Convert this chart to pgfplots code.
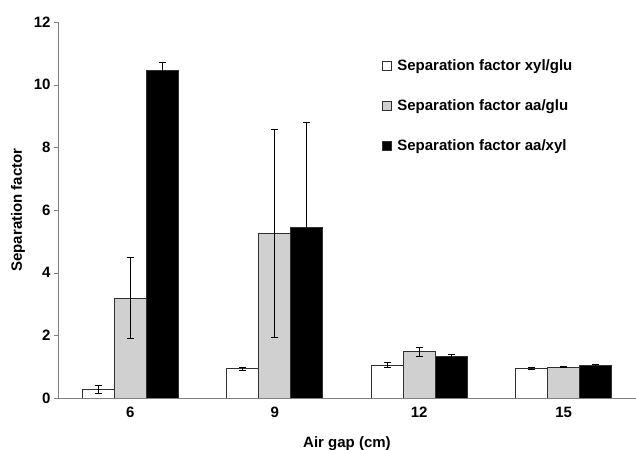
\documentclass[border=0pt]{standalone}
\usepackage{fontspec}
\setmainfont{Liberation Sans}
\usepackage{pgfplots}
\pgfplotsset{compat=1.18}
\definecolor{BarGray}{HTML}{D0D0D0}
\definecolor{EdgeGray}{HTML}{303030}
\definecolor{AxisGray}{HTML}{808080}
\newcommand{\chartfont}{\bfseries\fontsize{15bp}{17bp}\selectfont}

\begin{document}
\begin{tikzpicture}
\begin{axis}[
  name=ax,
  scale only axis,
  width=578bp, height=376bp,
  ybar=0pt,
  bar width=0.222,
  xmin=-0.5, xmax=3.5,
  ymin=0, ymax=12,
  xtick={0,1,2,3},
  xticklabels={6,9,12,15},
  major x tick style={draw=none},
  extra x ticks={0.5,1.5,2.5},
  extra x tick labels={},
  extra x tick style={major tick length=4bp, tick style={draw=AxisGray}},
  ytick={0,2,...,12},
  tick align=outside,
  major tick length=4bp,
  y tick style={draw=AxisGray},
  axis x line*=bottom,
  axis y line*=left,
  axis line style={draw=AxisGray, line width=0.8pt},
  tick label style={font=\chartfont},
  xticklabel style={yshift=-2bp},
  /pgf/number format/assume math mode=true,
  xlabel={Air gap (cm)},
  ylabel={Separation factor},
  every axis x label/.style={at={(rel axis cs:0.5,0)}, yshift=-46bp, anchor=center, font=\chartfont},
  every axis y label/.style={at={(rel axis cs:0,0.5)}, xshift=-40bp, rotate=90, anchor=center, font=\chartfont},
  legend style={draw=none, fill=none, at={(0.555,0.912)}, anchor=north west,
    font=\chartfont, row sep=24bp,
    legend cell align=left},
  legend image code/.code={\draw[#1, line width=0.8pt] (0bp,-4.5bp) rectangle (9bp,4.5bp);
    \path[draw=none, fill=none] (9bp,0bp) -- (13bp,0bp);},
  error bars/y dir=both,
  error bars/y explicit,
  error bars/error bar style={line width=1pt, black},
  error bars/error mark options={rotate=90, mark size=3.5bp, line width=1pt, black},
]
\addplot[fill=white, draw=EdgeGray, line width=1pt] coordinates {
  (0,0.28) +- (0,0.13)
  (1,0.93) +- (0,0.04)
  (2,1.05) +- (0,0.09)
  (3,0.93) +- (0,0.03)
};
\addplot[fill=BarGray, draw=EdgeGray, line width=1pt] coordinates {
  (0,3.19) +- (0,1.29)
  (1,5.24) +- (0,3.32)
  (2,1.47) +- (0,0.15)
  (3,0.98) +- (0,0.02)
};
\addplot[fill=black, draw=EdgeGray, line width=1pt] coordinates {
  (0,10.44) +- (0,0.27)
  (1,5.45) +- (0,3.33)
  (2,1.33) +- (0,0.07)
  (3,1.03) +- (0,0.05)
};
\legend{Separation factor xyl/glu, Separation factor aa/glu, Separation factor aa/xyl}
\end{axis}
\pgfresetboundingbox
\path (ax.south west) ++(-58bp,-52bp) coordinate (bl);
\path (ax.north east) ++(0bp,22bp) coordinate (tr);
\path[use as bounding box] (bl) rectangle (tr);
\end{tikzpicture}
\end{document}
